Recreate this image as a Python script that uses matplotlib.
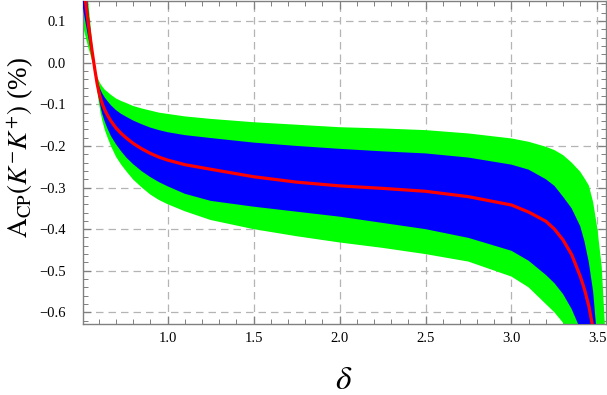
import numpy as np
import matplotlib
matplotlib.use('Agg')
import matplotlib.pyplot as plt
from matplotlib.ticker import MultipleLocator, FuncFormatter

# values
delta = [0.506, 0.52, 0.54, 0.56, 0.577, 0.59, 0.60, 0.61, 0.62, 0.635, 0.65, 0.67,
         0.70, 0.73, 0.76, 0.80, 0.85, 0.90, 0.95, 1.0, 1.1, 1.25, 1.5, 1.75,
         2.0, 2.25, 2.5, 2.75, 3.0, 3.1, 3.2, 3.25, 3.3, 3.35, 3.4, 3.425,
         3.45, 3.475, 3.5, 3.525, 3.55]

acp_central = [0.205, 0.155, 0.090, 0.030, -0.017, -0.050, -0.070, -0.086, -0.099, -0.114, -0.126, -0.140,
               -0.157, -0.170, -0.181, -0.194, -0.207, -0.218, -0.227, -0.234, -0.245, -0.256, -0.274, -0.287,
               -0.296, -0.302, -0.309, -0.322, -0.342, -0.359, -0.381, -0.400, -0.426, -0.461, -0.513, -0.545,
               -0.585, -0.64, -0.75, -0.9, -1.1]

green_upper = [0.092, 0.067, 0.035, 0.006, -0.017, -0.033, -0.043, -0.051, -0.057, -0.065, -0.070, -0.077,
               -0.086, -0.092, -0.097, -0.104, -0.110, -0.115, -0.120, -0.123, -0.129, -0.135, -0.143, -0.149,
               -0.155, -0.158, -0.162, -0.170, -0.182, -0.190, -0.202, -0.210, -0.222, -0.240, -0.262, -0.278,
               -0.295, -0.335, -0.40, -0.49, -0.68]

blue_upper = [0.136, 0.102, 0.057, 0.015, -0.017, -0.040, -0.054, -0.065, -0.074, -0.084, -0.092, -0.102,
              -0.114, -0.123, -0.130, -0.139, -0.148, -0.156, -0.162, -0.167, -0.174, -0.181, -0.192, -0.200,
              -0.207, -0.213, -0.218, -0.228, -0.245, -0.257, -0.280, -0.296, -0.322, -0.350, -0.393, -0.430,
              -0.480, -0.55, -0.67, -0.85, -1.0]

blue_lower = [0.269, 0.205, 0.121, 0.044, -0.017, -0.060, -0.085, -0.106, -0.123, -0.142, -0.158, -0.176,
              -0.196, -0.213, -0.228, -0.244, -0.261, -0.275, -0.287, -0.297, -0.315, -0.332, -0.346, -0.358,
              -0.370, -0.385, -0.400, -0.421, -0.452, -0.476, -0.510, -0.530, -0.556, -0.592, -0.64, -0.69,
              -0.75, -0.82, -0.9, -1.0, -1.2]

green_lower = [0.314, 0.239, 0.142, 0.053, -0.017, -0.066, -0.096, -0.120, -0.139, -0.162, -0.179, -0.200,
               -0.226, -0.245, -0.261, -0.281, -0.300, -0.317, -0.330, -0.340, -0.357, -0.378, -0.400, -0.417,
               -0.432, -0.445, -0.460, -0.478, -0.514, -0.540, -0.580, -0.600, -0.625, -0.67, -0.74, -0.78,
               -0.83, -0.9, -1.0, -1.1, -1.3]

plt.rcParams['font.family'] = ['Liberation Serif', 'DejaVu Serif']
plt.rcParams['mathtext.fontset'] = 'stix'

fig = plt.figure(figsize=(6.07, 3.95), dpi=100)
ax = fig.add_axes([0.1362, 0.1797, 0.8622, 0.8185])

ax.fill_between(delta, green_upper, green_lower, color='#00ff00', lw=0, zorder=2)
ax.fill_between(delta, blue_upper, blue_lower, color='#0000ff', lw=0, zorder=3)
ax.plot(delta, acp_central, color='#ff0000', lw=2.3, zorder=4)

ax.set_xlim(0.506, 3.55)
ax.set_ylim(-0.628, 0.149)

ax.xaxis.set_major_locator(MultipleLocator(0.5))
ax.xaxis.set_minor_locator(MultipleLocator(0.1))
ax.yaxis.set_major_locator(MultipleLocator(0.1))
ax.yaxis.set_minor_locator(MultipleLocator(0.02))
ax.xaxis.set_major_formatter(FuncFormatter(lambda v, p: f'{v:.1f}'))
ax.yaxis.set_major_formatter(FuncFormatter(lambda v, p: f'{v:.1f}'.replace('-', '\u2212') if abs(v) > 1e-9 else '0.0'))

ax.grid(True, which='major', ls=(0, (6, 4)), color='#b4b4b4', lw=0.9, zorder=1)
ax.set_axisbelow(True)

for s in ax.spines.values():
    s.set_color('#808080')
    s.set_linewidth(1.0)
ax.tick_params(which='both', direction='in', top=True, right=True, color='#808080', labelsize=10.5)
ax.tick_params(which='major', length=6, width=0.9)
ax.tick_params(which='minor', length=3.5, width=0.7)
ax.tick_params(axis='y', which='major', pad=12)
ax.tick_params(axis='x', which='major', pad=6)

ax.set_ylabel(r'$\mathrm{A}_{\rm CP}(K^{-}K^{+})$ (%)', fontsize=19.5)
ax.yaxis.set_label_coords(-0.087, 0.547)
ax.set_xlabel(r'$\delta$', fontsize=24)
ax.xaxis.set_label_coords(0.499, -0.127)

fig.savefig('out.png', dpi=100)
